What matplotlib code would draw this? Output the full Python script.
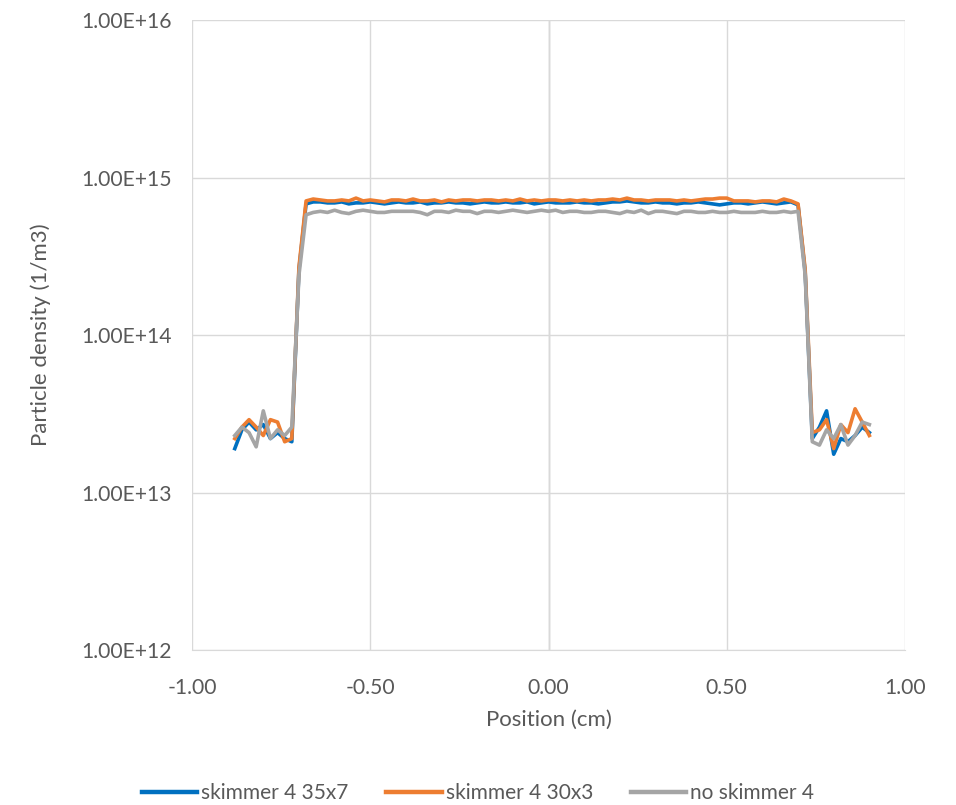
import numpy as np
import matplotlib
matplotlib.use("Agg")
import matplotlib.pyplot as plt
from matplotlib.ticker import FixedLocator, FixedFormatter

plt.rcParams['font.family'] = ['Lato', 'DejaVu Sans']

# Position (cm): -0.88 .. 0.90 in 0.02 steps
positions = [round(-0.88 + 0.02 * i, 2) for i in range(90)]

# edges (units of 1e13), plateau (units of 1e14)
blue_left = [1.9, 2.5, 2.8, 2.5, 2.7, 2.2, 2.4, 2.2, 2.1]
blue_rise = 26.0
blue_plateau = [6.8, 7.0, 7.0, 6.9, 6.9, 7.0, 6.8, 6.9, 6.9, 7.0,
                6.9, 6.8, 6.9, 7.0, 6.9, 6.9, 7.0, 6.8, 6.9, 6.9,
                7.0, 6.9, 6.9, 6.8, 6.9, 7.0, 6.9, 6.9, 7.0, 6.9,
                6.9, 7.0, 6.8, 6.9, 7.0, 6.9, 6.9, 6.9, 7.0, 6.9,
                6.9, 6.8, 6.9, 7.0, 7.0, 7.1, 7.0, 6.9, 6.9, 7.0,
                6.9, 6.9, 6.8, 6.9, 6.9, 7.0, 6.9, 6.8, 6.7, 6.8,
                6.9, 6.9, 6.8, 6.9, 7.0, 6.9, 6.8, 6.9, 7.0]
blue_end = 6.7
blue_fall = 25.0
blue_right = [2.2, 2.6, 3.3, 1.75, 2.2, 2.1, 2.3, 2.6, 2.4]

orange_left = [2.2, 2.6, 2.9, 2.6, 2.3, 2.9, 2.8, 2.1, 2.2]
orange_rise = 27.0
orange_plateau = [7.1, 7.3, 7.2, 7.1, 7.1, 7.2, 7.1, 7.4, 7.1, 7.2,
                  7.1, 7.0, 7.2, 7.2, 7.1, 7.3, 7.1, 7.1, 7.2, 7.0,
                  7.2, 7.1, 7.2, 7.2, 7.1, 7.2, 7.2, 7.1, 7.2, 7.1,
                  7.3, 7.1, 7.2, 7.1, 7.2, 7.2, 7.1, 7.2, 7.1, 7.2,
                  7.1, 7.2, 7.2, 7.3, 7.2, 7.4, 7.2, 7.2, 7.1, 7.2,
                  7.2, 7.2, 7.1, 7.2, 7.1, 7.2, 7.3, 7.3, 7.4, 7.4,
                  7.1, 7.1, 7.1, 7.0, 7.1, 7.1, 7.0, 7.3, 7.1]
orange_end = 6.8
orange_fall = 26.0
orange_right = [2.4, 2.5, 2.9, 1.9, 2.7, 2.4, 3.4, 2.8, 2.3]

gray_left = [2.3, 2.6, 2.4, 1.95, 3.3, 2.2, 2.5, 2.3, 2.6]
gray_rise = 24.0
gray_plateau = [5.8, 6.0, 6.1, 6.0, 6.2, 6.0, 5.9, 6.1, 6.2, 6.1,
                6.0, 6.0, 6.1, 6.1, 6.1, 6.1, 6.0, 5.8, 6.1, 6.1,
                6.0, 6.2, 6.1, 6.1, 5.9, 6.1, 6.1, 6.0, 6.1, 6.2,
                6.1, 6.0, 6.1, 6.2, 6.1, 6.2, 6.0, 6.1, 6.1, 6.0,
                6.0, 6.1, 6.1, 6.0, 5.9, 6.1, 6.0, 6.2, 5.9, 6.1,
                6.1, 6.0, 5.9, 6.1, 6.1, 6.0, 6.0, 6.1, 6.0, 6.0,
                6.1, 6.0, 6.0, 6.0, 6.1, 6.0, 6.0, 6.1, 6.0]
gray_end = 6.1
gray_fall = 24.0
gray_right = [2.1, 2.0, 2.5, 2.2, 2.7, 2.0, 2.3, 2.8, 2.7]

series_names = ["skimmer 4 35x7", "skimmer 4 30x3", "no skimmer 4"]
colors = ["#0070C0", "#ED7D31", "#A5A5A5"]

def build(left, rise, plateau, end, fall, right):
    vals = [v * 1e13 for v in left] + [rise * 1e13] + [v * 1e14 for v in plateau] \
        + [end * 1e14, fall * 1e13] + [v * 1e13 for v in right]
    return vals

series = [
    build(blue_left, blue_rise, blue_plateau, blue_end, blue_fall, blue_right),
    build(orange_left, orange_rise, orange_plateau, orange_end, orange_fall, orange_right),
    build(gray_left, gray_rise, gray_plateau, gray_end, gray_fall, gray_right),
]

fig = plt.figure(figsize=(9.56, 8.05), dpi=100)
ax = fig.add_axes([192/956, 1 - 650/805, (905-192)/956, (650-20)/805])

for name, vals, c in zip(series_names, series, colors):
    ax.plot(positions[:len(vals)], vals, color=c, lw=2.6, label=name,
            solid_joinstyle='round', zorder=3)

ax.set_yscale('log')
ax.set_ylim(1e12, 1e16)
ax.set_xlim(-1, 1)
yt = [1e12, 1e13, 1e14, 1e15, 1e16]
ax.yaxis.set_major_locator(FixedLocator(yt))
ax.yaxis.set_major_formatter(FixedFormatter(["1.00E+12", "1.00E+13", "1.00E+14", "1.00E+15", "1.00E+16"]))
ax.yaxis.set_minor_locator(FixedLocator([]))
xt = [-1.0, -0.5, 0.0, 0.5, 1.0]
ax.set_xticks(xt)
ax.set_xticklabels(["-1.00", "-0.50", "0.00", "0.50", "1.00"])

ax.grid(True, color="#D9D9D9", lw=1.0, zorder=0)
ax.axvline(0, color="#BFBFBF", lw=1.0, zorder=1)
for s in ['top', 'right', 'left']:
    ax.spines[s].set_visible(False)
ax.spines['bottom'].set_color("#D9D9D9")
ax.tick_params(length=0, labelsize=15.2, colors="#595959")
ax.tick_params(axis='y', pad=14.5)
ax.tick_params(axis='x', pad=20)

ax.set_xlabel("Position (cm)", fontsize=16, color="#595959", labelpad=9)
ax.set_ylabel("Particle density (1/m3)", fontsize=16, color="#595959", labelpad=22)

leg = fig.legend(loc='center', bbox_to_anchor=(0.5, 1 - 793/805), ncol=3, frameon=False,
                 fontsize=15, handlelength=2.65, columnspacing=1.8, handletextpad=0.2)
for t in leg.get_texts():
    t.set_color("#595959")
for l in leg.get_lines():
    l.set_linewidth(3.2)

fig.savefig("out.png", dpi=100)
